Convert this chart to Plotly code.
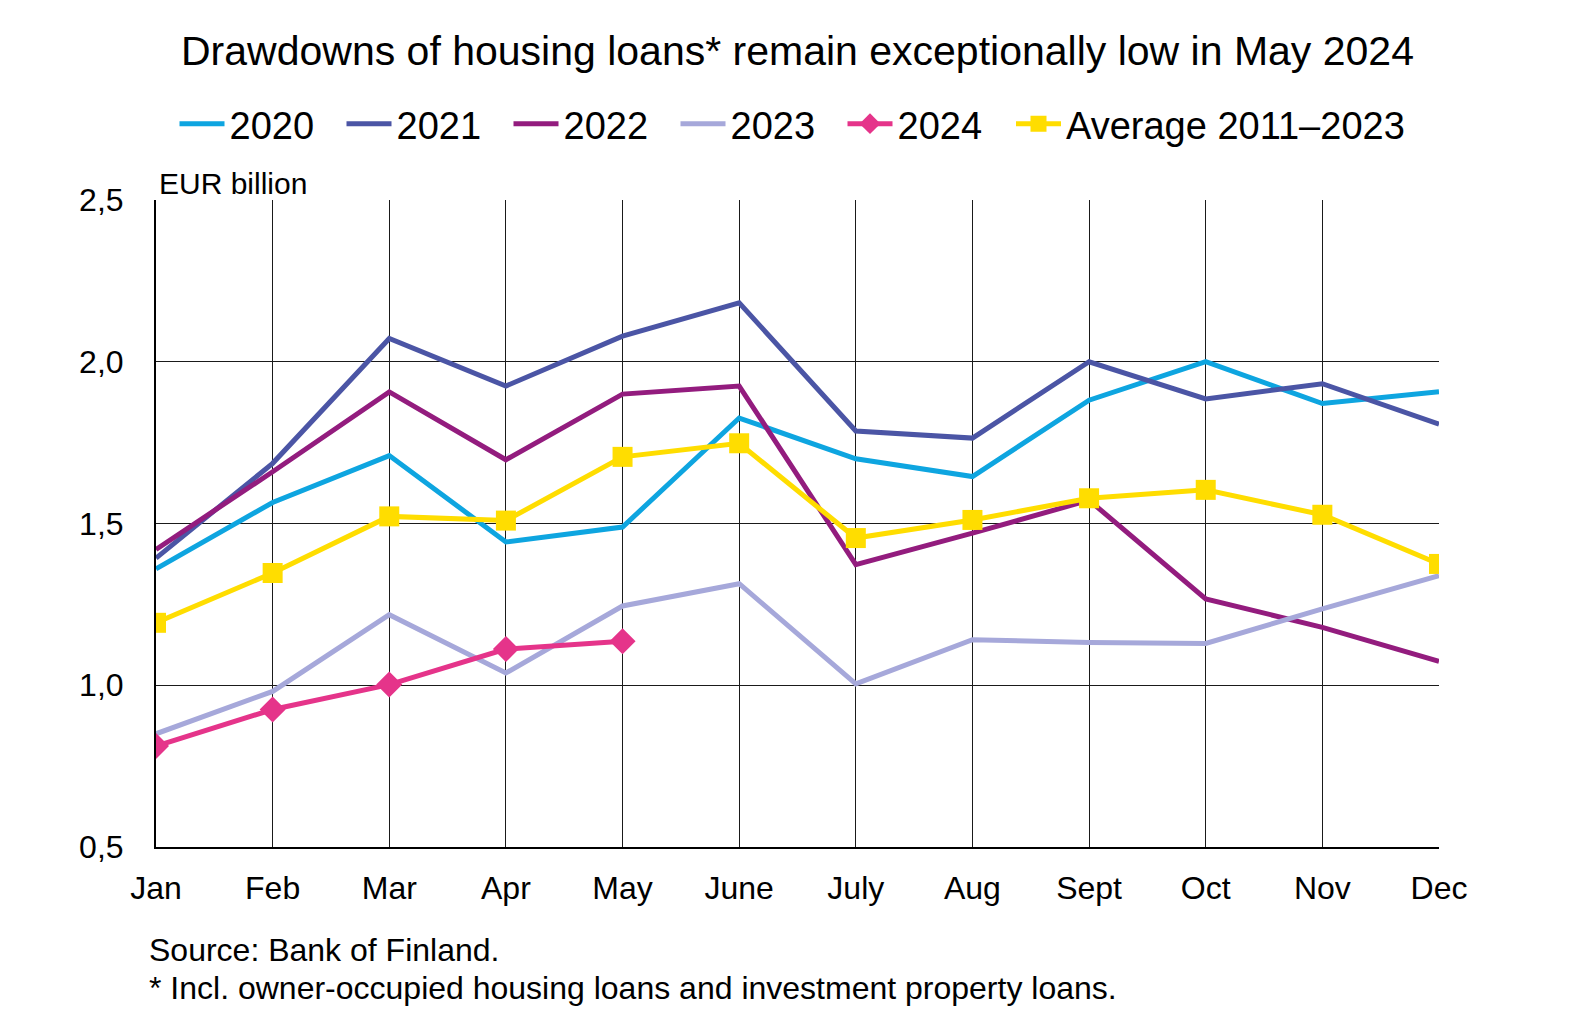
import plotly.graph_objects as go

months = ["Jan", "Feb", "Mar", "Apr", "May", "June", "July", "Aug", "Sept", "Oct", "Nov", "Dec"]

y2020 = [1.36, 1.565, 1.71, 1.443, 1.489, 1.826, 1.70, 1.645, 1.881, 2.0, 1.871, 1.907]
y2021 = [1.393, 1.686, 2.072, 1.925, 2.079, 2.182, 1.786, 1.764, 2.0, 1.885, 1.932, 1.807]
y2022 = [1.42, 1.66, 1.907, 1.697, 1.90, 1.925, 1.373, 1.47, 1.572, 1.267, 1.179, 1.074]
y2023 = [0.85, 0.981, 1.218, 1.038, 1.245, 1.314, 1.004, 1.141, 1.132, 1.129, 1.236, 1.339]
y2024 = [0.812, 0.925, 1.002, 1.112, 1.136]
y_avg = [1.193, 1.347, 1.522, 1.509, 1.706, 1.748, 1.455, 1.511, 1.578, 1.604, 1.527, 1.375]

FONT = "Liberation Sans, Arial, sans-serif"

fig = go.Figure()
fig.add_trace(go.Scatter(x=months, y=y2020, name="2020", mode="lines",
                         line=dict(color="#0EA5E0", width=5)))
fig.add_trace(go.Scatter(x=months, y=y2021, name="2021", mode="lines",
                         line=dict(color="#4B55A5", width=5)))
fig.add_trace(go.Scatter(x=months, y=y2022, name="2022", mode="lines",
                         line=dict(color="#931C7E", width=5)))
fig.add_trace(go.Scatter(x=months, y=y2023, name="2023", mode="lines",
                         line=dict(color="#A6A8DA", width=5)))
fig.add_trace(go.Scatter(x=months[:len(y2024)], y=y2024, name="2024", mode="lines+markers",
                         line=dict(color="#E5348A", width=5),
                         marker=dict(symbol="diamond", size=20, color="#E5348A")))
fig.add_trace(go.Scatter(x=months, y=y_avg, name="Average 2011\u20132023", mode="lines+markers",
                         line=dict(color="#FFDD00", width=5), legend="legend2",
                         marker=dict(symbol="square", size=20, color="#FFDD00")))

# page offset of the figure inside the browser page (body margin)
OFF = 8
W, H = 1585 - OFF, 1035 - OFF
L, T = 156 - OFF, 200 - OFF
pw, ph = 1283, 647
R = W - L - pw
B = H - T - ph

def py(page_y):
    return (T + ph - (page_y - OFF)) / ph

def px(page_x):
    return ((page_x - OFF) - L) / pw

legend_common = dict(orientation="h", yanchor="middle", xanchor="left",
                     font=dict(size=38, family=FONT, color="black"),
                     itemwidth=45, tracegroupgap=0, bgcolor="rgba(0,0,0,0)")

fig.update_layout(
    width=W, height=H,
    margin=dict(l=L, r=R, t=T, b=B),
    paper_bgcolor="white", plot_bgcolor="white",
    separators=", ",
    font=dict(family=FONT, color="black", size=32),
    title=dict(text="Drawdowns of housing loans* remain exceptionally low in May 2024",
               x=0.5, xref="paper", xanchor="center",
               y=1 - (51 - OFF) / H, yref="container", yanchor="middle",
               font=dict(size=41, family=FONT, color="black")),
    legend=dict(x=px(174.5), y=py(124), entrywidth=107, entrywidthmode="pixels",
                **legend_common),
    legend2=dict(x=px(1011), y=py(124), **legend_common),
    showlegend=True,
)

fig.update_xaxes(type="category", range=[0, len(months) - 1],
                 showgrid=True, gridcolor="#1a1a1a", gridwidth=1,
                 showline=True, linecolor="black", linewidth=2,
                 ticks="", ticklabelstandoff=12,
                 tickfont=dict(size=32, family=FONT, color="black"),
                 zeroline=False, fixedrange=True)
fig.update_yaxes(range=[0.5, 2.5], dtick=0.5, tick0=0.5, tickformat=".1f",
                 showgrid=True, gridcolor="#1a1a1a", gridwidth=1,
                 showline=True, linecolor="black", linewidth=2,
                 ticks="", ticklabelstandoff=24,
                 tickfont=dict(size=32, family=FONT, color="black"),
                 zeroline=False, fixedrange=True)

fig.add_annotation(text="EUR billion", xref="paper", yref="paper",
                   x=px(157), y=py(183), xanchor="left", yanchor="middle",
                   showarrow=False, font=dict(size=30, family=FONT, color="black"))
fig.add_annotation(text="Source: Bank of Finland.", xref="paper", yref="paper",
                   x=px(147), y=py(950), xanchor="left", yanchor="middle",
                   showarrow=False, font=dict(size=32, family=FONT, color="black"))
fig.add_annotation(text="* Incl. owner-occupied housing loans and investment property loans.",
                   xref="paper", yref="paper",
                   x=px(147), y=py(988), xanchor="left", yanchor="middle",
                   showarrow=False, font=dict(size=32, family=FONT, color="black"))

fig.write_html("out.html")
